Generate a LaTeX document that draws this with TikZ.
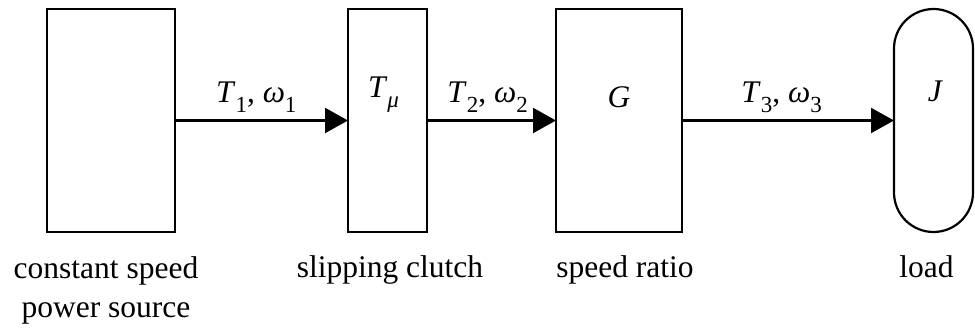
\documentclass[tikz,border=0pt]{standalone}
\usepackage{fontspec}
\setmainfont{Liberation Serif}
\usetikzlibrary{arrows.meta,positioning}
\newcommand\bigfont{\fontsize{31.5}{39}\selectfont}
\newcommand\lowsub[1]{\raisebox{-10pt}{\fontsize{23}{23}\selectfont #1}}
\newcommand\torqspeed[1]{\textit{T}\lowsub{#1}, \textit{ω}\lowsub{#1}}
\tikzset{
 block/.style={draw,line width=2.2pt,minimum height=223pt,inner sep=0,outer sep=0},
 drum/.style={block,rounded corners=39.5pt},
 flow/.style={line width=2.2pt,-{Triangle[length=23pt,width=25pt]}},
 flowlabel/.style={anchor=base,inner sep=0,pos=.47,yshift=18pt,font=\bigfont},
 tag/.style={anchor=base,inner sep=0,font=\bigfont},
 caption/.style={anchor=base,inner sep=0,align=center,font=\bigfont}
}
\begin{document}
\begin{tikzpicture}[x=1pt,y=-1pt]
\path[use as bounding box] (0,0) rectangle (975,331);
\node[block,minimum width=128pt] (source) at (111,120.5) {};
\node[block,minimum width=79pt] (clutch) at (387.5,120.5) {};
\node[block,minimum width=126pt] (ratio) at (619,120.5) {};
\node[drum,minimum width=79pt] (load) at (933.5,120.5) {};
\node[tag] (mu) at ([xshift=-4pt,yshift=23pt]clutch.center) {\textit{T}\lowsub{\textit{μ}}};
\node[tag] (gain) at ([yshift=13pt]ratio.center) {\textit{G}};
\node[tag] (inertia) at ([xshift=2pt,yshift=19pt]load.center) {\textit{J}};
\draw[flow] (source.east) -- node[flowlabel] {\torqspeed{1}} (clutch.west);
\draw[flow] (clutch.east) -- node[flowlabel] {\torqspeed{2}} (ratio.west);
\draw[flow] (ratio.east) -- node[flowlabel] {\torqspeed{3}} (load.west);
\node[caption] (sourcecap) at ([xshift=-5pt,yshift=-85pt]source.south) {constant speed\\power source};
\node[caption] (clutchcap) at ([xshift=2.5pt,yshift=-46pt]clutch.south) {slipping clutch};
\node[caption] (ratiocap) at ([xshift=6pt,yshift=-46pt]ratio.south) {speed ratio};
\node[caption] (loadcap) at ([xshift=-7pt,yshift=-46pt]load.south) {load};
\end{tikzpicture}
\end{document}
